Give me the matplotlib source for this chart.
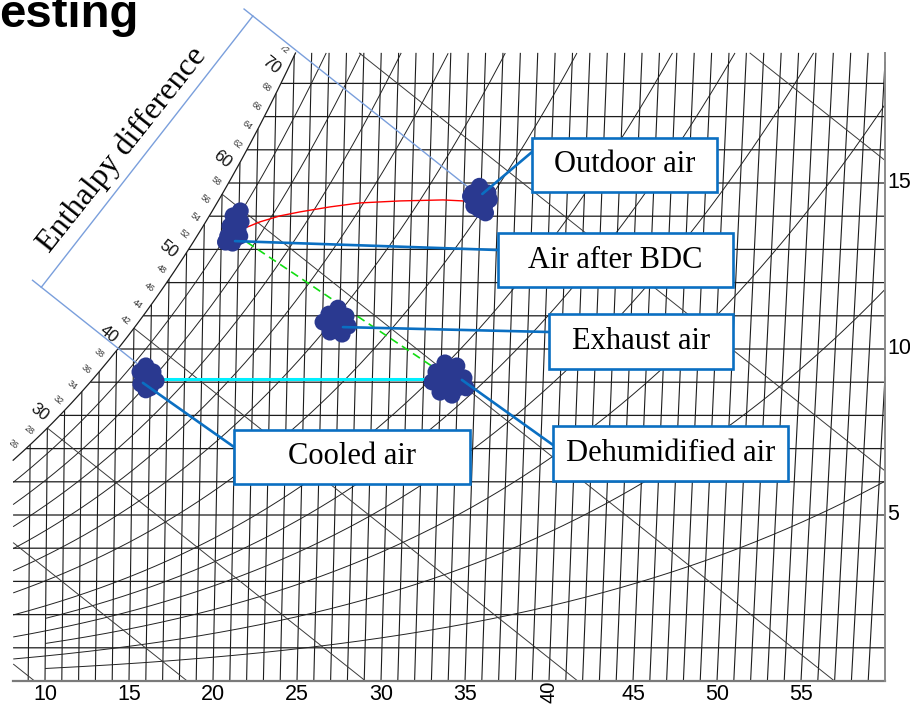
import numpy as np
import matplotlib
matplotlib.use("Agg")
import matplotlib.pyplot as plt
from matplotlib.patches import Rectangle
from matplotlib.transforms import Bbox

# ---------------- chart values ----------------
temp_ticks = [10, 15, 20, 25, 30, 35, 40, 45, 50, 55]
humidity_ticks = [5, 10, 15]
enthalpy_small = [26, 28, 32, 34, 36, 38, 42, 44, 46, 48, 52, 54, 56, 58, 62, 64, 66, 68, 72]
enthalpy_large = [30, 40, 50, 60, 70]
rh_levels = [5, 10, 15, 20, 25, 30, 40, 50, 60, 70, 80, 90]
rh_from_10C = [5, 15, 25]
wetbulb_levels = [0, 5, 10, 15, 20, 25, 30]
drybulb_lines = list(range(9, 60))
humidity_lines = list(range(1, 19))

# measured states (dry-bulb degC, humidity ratio g/kg)
outdoor_t = [34.9, 34.5, 35.4, 34.7, 35.3, 34.95, 35.3, 34.4, 35.05, 35.5, 34.84, 35.19, 34.61]
outdoor_w = [14.9, 14.7, 14.7, 14.5, 14.4, 14.2, 14.1, 14.6, 14.5, 14.5, 14.64, 14.36, 14.31]
bdc_t = [21.07, 20.66, 21.13, 20.49, 20.96, 20.37, 20.84, 20.25, 20.66, 21.07, 20.72, 20.84, 20.55]
bdc_w = [14.16, 14.01, 13.83, 13.70, 13.58, 13.40, 13.34, 13.22, 13.19, 13.40, 13.64, 13.83, 13.52]
exhaust_t = [26.88, 26.36, 27.36, 26.03, 26.78, 27.50, 26.45, 27.16, 26.85, 26.60, 27.08, 26.67]
exhaust_w = [11.23, 11.05, 10.99, 10.81, 10.81, 10.69, 10.51, 10.45, 10.69, 10.93, 10.81, 10.63]
cooled_t = [15.73, 15.39, 16.15, 15.74, 16.34, 15.45, 15.99, 15.75, 15.86, 15.98]
cooled_w = [9.49, 9.31, 9.31, 9.13, 9.04, 8.95, 8.83, 8.77, 9.19, 9.01]
dehum_t = [33.22, 33.92, 32.71, 33.54, 34.36, 32.50, 33.32, 34.02, 32.98, 33.69, 34.50,
           33.30, 33.89, 33.08, 33.67, 34.13]
dehum_w = [9.58, 9.49, 9.31, 9.25, 9.13, 9.01, 8.95, 8.83, 8.70, 8.61, 8.83,
           9.31, 9.13, 9.01, 8.92, 9.07]

# process lines
red_t = [21.48, 22.23, 23.38, 24.54, 26.27, 28.00, 30.32, 32.81, 33.97]
red_w = [13.67, 13.83, 14.01, 14.13, 14.28, 14.40, 14.46, 14.49, 14.46]
green_t = [21.49, 33.24]
green_w = [13.22, 9.22]
cyan_t = [15.9, 33.2]
cyan_w = [9.10, 9.10]

# labels and their anchor states
box_labels = ["Outdoor air", "Air after BDC", "Exhaust air", "Cooled air", "Dehumidified air"]
anchor_t = [35.08, 20.8, 27.2, 15.57, 34.24]
anchor_w = [14.67, 13.25, 10.66, 8.98, 9.07]

# enthalpy difference bracket (kJ/kg) and humidity ratio of bracket ends
bracket_h = [39.5, 72.6]
bracket_w = [11.86, 20.03]
cap_end_w = [9.3, 14.6]

# ---------------- psychrometrics ----------------
P = 101.325
X_LEFT, X_RIGHT, W_TOP = 8.1, 60.0, 18.92


def pws(t):
    return 0.61094 * np.exp(17.625 * t / (t + 243.04))


def w_of(t, rh):
    p = rh * pws(t)
    return 622.0 * p / (P - p)


def x_of(t, w):
    return t * (1 + 0.001849 * w)


def h_of(t, w):
    return 1.006 * t + w / 1000.0 * (2501 + 1.86 * t)


ts = np.linspace(-5, 32, 6000)
ws_sat = w_of(ts, 1.0)
xs_sat = x_of(ts, ws_sat)
hs_sat = h_of(ts, ws_sat)


def inside(X, W):
    return ((X >= X_LEFT - 1e-9) & (X <= X_RIGHT + 1e-9) & (W >= -1e-9)
            & (W <= W_TOP + 1e-9) & (W <= np.interp(X, xs_sat, ws_sat) + 1e-6))


# ---------------- figure ----------------
fig = plt.figure(figsize=(9.1, 7.04), dpi=100)
ax = fig.add_axes([0, 0, 1, 1])
PX0, PXS, PY0, PYS = 45.0, 16.8, 681.0, 33.2  # layout of the chart in the image
ax.set_xlim(10 - PX0 / PXS, 10 + (910 - PX0) / PXS)
ax.set_ylim((PY0 - 704) / PYS, PY0 / PYS)
ax.axis("off")


def draw_masked(X, W, **kw):
    m = inside(X, W)
    Xp = np.where(m, X, np.nan)
    Wp = np.where(m, W, np.nan)
    ax.plot(Xp, Wp, solid_capstyle="butt", **kw)


grid_col = "#1c1c1c"
# dry-bulb lines
Wd = np.linspace(0, W_TOP, 3000)
for t in drybulb_lines:
    draw_masked(x_of(t, Wd), Wd, color=grid_col, lw=0.8, zorder=1)
# humidity-ratio lines
Xd = np.linspace(X_LEFT, X_RIGHT, 3000)
for w in humidity_lines:
    draw_masked(Xd, np.full_like(Xd, w), color=grid_col, lw=0.9, zorder=1)
# relative humidity curves
for rh in rh_levels:
    t0 = 10.0 if rh in rh_from_10C else -5.0
    tt = np.linspace(t0, 62, 6000)
    ww = w_of(tt, rh / 100.0)
    draw_masked(x_of(tt, ww), ww, color="#222222", lw=0.7, zorder=1)
# constant enthalpy lines through saturation at round wet-bulb temperatures
Wl = np.linspace(0, 20, 5000)
for tw in wetbulb_levels:
    h = h_of(tw, w_of(tw, 1.0))
    draw_masked((h - 2.501 * Wl) / 1.006, Wl, color="#3a3a3a", lw=0.7, zorder=1)
# saturation curve
m = (xs_sat >= X_LEFT) & (ws_sat <= W_TOP)
ax.plot(xs_sat[m], ws_sat[m], color=grid_col, lw=0.9, zorder=1)
# frame: bottom and right
ax.plot([X_LEFT, X_RIGHT], [0, 0], color="#7a7a7a", lw=1.6, zorder=1)
ax.plot([X_RIGHT, X_RIGHT], [0, W_TOP], color="#8a8a8a", lw=1.4, zorder=1)

# enthalpy labels along saturation curve
clipbox = Bbox.from_extents(10, 0, 910, 704 - 47)
p_a = ax.transData.transform((30.0, 5.0))
p_b = ax.transData.transform((30.0 - 2.501 / 1.006, 6.0))
dvec = p_b - p_a
dvec = dvec / np.hypot(*dvec)
ang = np.degrees(np.arctan2(-dvec[1], -dvec[0]))


def enth_label(h, size, dist, color):
    t = np.interp(h, hs_sat, ts)
    w = w_of(t, 1.0)
    p = ax.transData.transform((x_of(t, w), w)) + dvec * dist
    X, W = ax.transData.inverted().transform(p)
    txt = ax.text(X, W, str(h), fontsize=size, color=color, rotation=ang,
                  rotation_mode="anchor", ha="center", va="center",
                  family=["Liberation Sans", "DejaVu Sans"], zorder=2)
    txt.set_clip_box(clipbox)
    txt.set_clip_on(True)


for h in enthalpy_small:
    enth_label(h, 6.5, 12, "#333333")
for h in enthalpy_large:
    enth_label(h, 12, 17, "#111111")

# tick labels
narrow = ["Liberation Sans Narrow", "Arial Narrow", "Liberation Sans"]
for t in temp_ticks:
    ax.text(t, (PY0 - (692 if t == 40 else 694)) / PYS, str(t),
            fontsize=14.5 if t == 40 else 15.5, ha="center", va="center",
            rotation=90 if t == 40 else 0, family=narrow, zorder=2)
for w in humidity_ticks:
    ax.text(X_RIGHT + 2.0 / PXS, w, str(w), fontsize=15.5, ha="left", va="center",
            family=narrow, zorder=2)

# process lines
ax.plot(x_of(np.array(red_t), np.array(red_w)), red_w, color="#ff0000", lw=1.0, zorder=3)
ax.plot(x_of(np.array(green_t), np.array(green_w)), green_w, color="#11dd11", lw=1.2,
        dashes=(5, 3), zorder=3)
ax.plot(x_of(np.array(cyan_t), np.array(cyan_w)), cyan_w, color="#00f0ff", lw=2.2, zorder=3)

# enthalpy difference bracket
bl_col = "#7a9fdc"
ends = []
for h, wb, we in zip(bracket_h, bracket_w, cap_end_w):
    w_over = wb + 0.21
    ax.plot([(h - 2.501 * w_over) / 1.006, (h - 2.501 * we) / 1.006], [w_over, we],
            color=bl_col, lw=1.0, zorder=3, clip_on=False)
    ends.append(((h - 2.501 * wb) / 1.006, wb))
ax.plot([ends[0][0], ends[1][0]], [ends[0][1], ends[1][1]], color=bl_col, lw=1.0, zorder=3)
ax.text(10 + (122 - PX0) / PXS, (PY0 - 150) / PYS, "Enthalpy difference", fontsize=23,
        rotation=51.5, rotation_mode="anchor", ha="center", va="center",
        family=["Liberation Serif", "DejaVu Serif"], zorder=3)

# measured clusters
navy = "#2a3990"
for tt, ww in [(outdoor_t, outdoor_w), (bdc_t, bdc_w), (exhaust_t, exhaust_w),
               (cooled_t, cooled_w), (dehum_t, dehum_w)]:
    tt = np.array(tt)
    ww = np.array(ww)
    ax.scatter(x_of(tt, ww), ww, s=150, color=navy, edgecolors="none", zorder=4)

# label boxes (image pixel layout: x0, y0, x1, y1) and leader attachment points
boxes = [(532, 138, 717, 192), (498, 233, 733, 287), (549, 314, 733, 369),
         (234, 430, 470, 484), (553, 426, 788, 481)]
attach = [(532, 152), (498, 250), (549, 332), (234, 447), (553, 445)]
blue = "#0a6fc2"
for lab, (x0, y0, x1, y1), (axp, ayp), t, w in zip(box_labels, boxes, attach, anchor_t, anchor_w):
    ax.add_patch(Rectangle((x0 / 910, 1 - y1 / 704), (x1 - x0) / 910, (y1 - y0) / 704,
                           transform=ax.transAxes, facecolor="white", edgecolor=blue,
                           lw=1.9, zorder=6))
    ax.text((x0 + x1) / 2 / 910, 1 - (y0 + y1) / 2 / 704, lab, transform=ax.transAxes,
            fontsize=22, ha="center", va="center",
            family=["Liberation Serif", "DejaVu Serif"], zorder=7)
    ax.annotate("", xy=(x_of(t, w), w), xycoords="data", xytext=(axp / 910, 1 - ayp / 704),
                textcoords="axes fraction",
                arrowprops=dict(arrowstyle="-", color=blue, lw=1.9, shrinkA=0, shrinkB=0),
                zorder=5)

# title fragment
ax.text(-1 / 910, 1 - 27 / 704, "esting", transform=ax.transAxes, fontsize=34,
        fontweight="bold", ha="left", va="baseline",
        family=["Liberation Sans", "DejaVu Sans"], zorder=8)

fig.savefig("out.png", dpi=100)
